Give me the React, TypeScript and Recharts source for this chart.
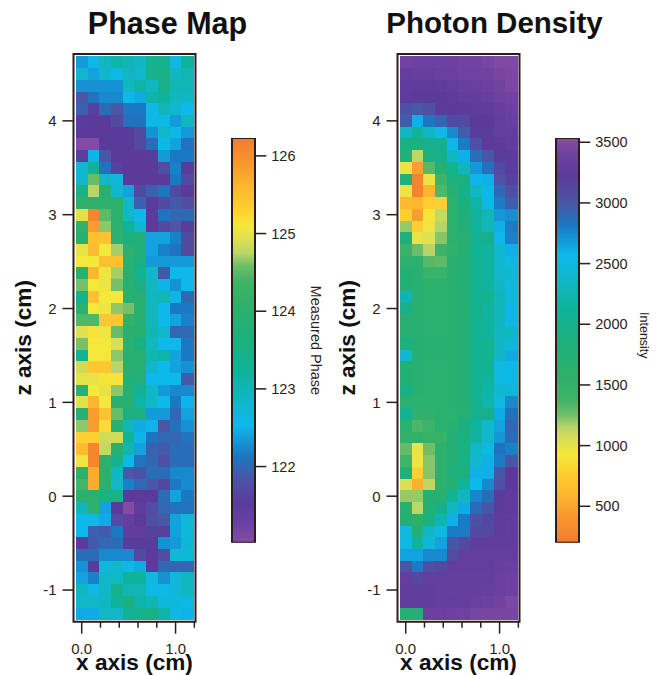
import React from "react";
import {
  Bar,
  BarChart,
  ReferenceArea,
  Scatter,
  ScatterChart,
  XAxis,
  YAxis,
} from "recharts";

// cell centres in cm
const xCenters = [0, 0.125, 0.25, 0.375, 0.5, 0.625, 0.75, 0.875, 1, 1.125];
const zCenters = [
  4.625, 4.5, 4.375, 4.25, 4.125, 4, 3.875, 3.75, 3.625, 3.5, 3.375, 3.25,
  3.125, 3, 2.875, 2.75, 2.625, 2.5, 2.375, 2.25, 2.125, 2, 1.875, 1.75,
  1.625, 1.5, 1.375, 1.25, 1.125, 1, 0.875, 0.75, 0.625, 0.5, 0.375, 0.25,
  0.125, 0, -0.125, -0.25, -0.375, -0.5, -0.625, -0.75, -0.875, -1, -1.125, -1.25,
];

const phaseRows = [
  [122.35, 122.6, 122.9, 123.1, 123, 122.9, 123.4, 123.4, 122.6, 123.2],
  [122.8, 122.4, 122.8, 122.6, 122.9, 122.8, 123.4, 123.5, 122.9, 123],
  [122.3, 122.3, 122.3, 122.3, 122.9, 123.1, 122.9, 123.5, 123, 123],
  [121.85, 122.1, 122.25, 122.25, 122.6, 122.45, 123.1, 123.2, 122.9, 122.9],
  [121.95, 121.6, 122.05, 121.85, 122.15, 122.15, 122.6, 122.95, 122.8, 122.55],
  [121.55, 121.5, 121.5, 121.7, 122.1, 122.1, 122.6, 122.6, 122.35, 122.9],
  [121.5, 121.5, 121.5, 121.5, 121.5, 121.7, 122.3, 122.85, 122.6, 122.35],
  [121.05, 121.05, 121.5, 121.5, 121.5, 121.7, 122.05, 122.6, 122.4, 122.1],
  [121.6, 122.5, 121.85, 121.5, 121.5, 121.5, 121.55, 122.35, 122.15, 122.15],
  [122.8, 123.4, 122.1, 121.6, 121.5, 121.5, 121.5, 121.75, 122.2, 121.55],
  [122.8, 124.55, 122.85, 122.7, 121.5, 121.5, 121.5, 121.5, 122.15, 121.7],
  [123.5, 124.75, 123.9, 122.8, 122.4, 121.7, 121.95, 122.1, 121.7, 121.5],
  [124.1, 124.1, 124, 124, 122.8, 121.95, 121.5, 121.7, 121.9, 121.75],
  [124.95, 126.1, 124.5, 124, 122.8, 122.55, 121.5, 122.1, 122, 122],
  [124.2, 125.85, 124.65, 124, 123.2, 122.8, 121.5, 121.7, 121.85, 121.55],
  [123.9, 125.5, 125.45, 124, 123.6, 123.7, 122.4, 122.4, 122.2, 121.7],
  [125, 125.55, 125.1, 124.7, 124, 123.7, 122.4, 122.2, 122.1, 121.7],
  [125.1, 125.1, 125.5, 125.5, 123.9, 123.6, 122.35, 122.35, 122.35, 122.35],
  [123.9, 125.6, 125.05, 124.7, 123.9, 123.3, 122.8, 121.9, 122.55, 122.55],
  [124.6, 125.1, 125.05, 124.6, 123.9, 123.6, 122.9, 122.5, 122.3, 122.55],
  [123.4, 125.5, 125.1, 125.1, 123.9, 123.9, 122.9, 123, 122.5, 122],
  [124, 125.1, 125.05, 124.65, 124.6, 123.9, 122.9, 122.55, 122.15, 122.15],
  [124.45, 124.45, 125.4, 125.4, 124.2, 123.9, 122.95, 122.55, 122.4, 122.2],
  [124.95, 125.15, 125.05, 124.55, 123.95, 123.9, 123, 122.8, 122, 122],
  [124.6, 125.1, 125.1, 124.9, 123.9, 123.6, 122.9, 122.55, 122.55, 122.15],
  [123.3, 125.1, 125.1, 124.65, 123.9, 123.9, 123, 123.1, 122.4, 122.15],
  [124.85, 125.4, 125.4, 124.75, 123.9, 123.9, 122.8, 122.55, 122.4, 122.3],
  [125, 125, 125.15, 125.15, 123.7, 123.8, 122.55, 122.55, 122.55, 121.9],
  [123.9, 125.1, 125, 124.65, 123.8, 123.3, 122.85, 122.35, 122.25, 122.25],
  [124.95, 125.6, 125.1, 123.9, 123.9, 123.1, 122.85, 122.55, 122.15, 122.5],
  [123.9, 125.85, 125.45, 124.55, 123.6, 123.6, 122.35, 122.35, 122, 122.4],
  [124.65, 125.85, 125.2, 123.9, 122.95, 122.45, 122.5, 121.85, 122.1, 122.3],
  [125.3, 125.3, 124.85, 124.85, 123.2, 122.5, 122.1, 122, 122, 122.1],
  [125.55, 126.1, 124.8, 123.95, 123, 122.4, 121.95, 121.9, 122.05, 122.05],
  [125.05, 126.1, 124, 123.4, 122.6, 122.1, 122, 121.8, 122.05, 122.05],
  [124, 125.7, 124, 122.9, 121.85, 121.8, 122.05, 122.05, 122.25, 122.25],
  [124.4, 125.7, 124, 122.85, 122.2, 122, 121.85, 121.65, 122.15, 122.25],
  [124, 124, 123.5, 123.5, 121.5, 121.5, 121.5, 122.05, 122.4, 122.15],
  [122.95, 124, 122.4, 121.5, 121.05, 121.45, 121.75, 122, 122.1, 122.1],
  [122.55, 122.6, 122.45, 121.75, 121.35, 121.5, 121.8, 121.85, 122.4, 122.7],
  [122.55, 121.95, 121.9, 122.15, 121.4, 121.4, 121.6, 121.6, 122.4, 122.7],
  [121.5, 121.9, 122, 122.05, 121.55, 121.55, 121.55, 122.3, 122.35, 122.75],
  [122.05, 122.05, 122.25, 122.25, 122.25, 121.7, 121.5, 121.75, 122.7, 122.7],
  [122.3, 121.55, 122.7, 122.8, 122.6, 122.45, 121.5, 122, 122, 122],
  [122.4, 122.2, 122.85, 122.85, 123.2, 123.2, 122.6, 122.3, 122.7, 122.9],
  [122.9, 122.6, 122.85, 123.4, 123, 123, 122.6, 122.6, 122.7, 122.9],
  [122.85, 122.85, 122.9, 123.2, 123.6, 123.1, 123, 122.7, 122.7, 122.6],
  [122.45, 122.45, 122.85, 122.85, 123.3, 123.4, 123.5, 123.1, 122.6, 122.5],
];

const densityRows = [
  [3420, 3380, 3380, 3380, 3380, 3420, 3420, 3450, 3500, 3500],
  [3300, 3320, 3320, 3350, 3350, 3400, 3400, 3420, 3450, 3470],
  [3250, 3250, 3250, 3270, 3300, 3330, 3350, 3380, 3420, 3470],
  [3250, 3220, 3220, 3220, 3250, 3280, 3280, 3320, 3380, 3420],
  [3050, 2980, 3050, 3200, 3220, 3200, 3250, 3270, 3320, 3380],
  [2970, 2600, 2820, 2920, 3100, 3100, 3220, 3220, 3300, 3350],
  [2330, 2130, 2350, 2560, 2750, 2970, 3200, 3200, 3300, 3300],
  [1900, 1900, 2000, 2000, 2550, 2800, 3050, 3220, 3230, 3280],
  [1800, 1130, 1850, 2000, 2350, 2600, 2870, 3000, 3200, 3240],
  [970, 460, 1320, 1750, 2050, 2320, 2700, 2850, 3100, 3200],
  [1800, 280, 980, 1400, 1850, 1850, 2580, 2600, 3030, 3150],
  [970, 250, 600, 1340, 1700, 2000, 2350, 2550, 2900, 3050],
  [620, 600, 780, 780, 1650, 1900, 2200, 2540, 2800, 2950],
  [780, 460, 900, 1100, 1650, 1800, 2150, 2300, 2700, 2730],
  [1200, 780, 960, 1150, 1650, 1750, 2150, 2300, 2600, 2800],
  [1850, 980, 1020, 1220, 1600, 1700, 2050, 2000, 2550, 2780],
  [1430, 1260, 1150, 1400, 1550, 1750, 2080, 2150, 2400, 2600],
  [1600, 1600, 1320, 1300, 1700, 1750, 2050, 2150, 2400, 2540],
  [1750, 1700, 1480, 1480, 1700, 1750, 2050, 2150, 2400, 2400],
  [1750, 1700, 1600, 1600, 1700, 1750, 2050, 2150, 2350, 2500],
  [2250, 1700, 1650, 1650, 1700, 1750, 2050, 2050, 2300, 2500],
  [1950, 1700, 1650, 1650, 1700, 1750, 2000, 2150, 2300, 2550],
  [1700, 1700, 1650, 1650, 1700, 1750, 2050, 2150, 2300, 2550],
  [1700, 1700, 1650, 1650, 1700, 1750, 2050, 2150, 2350, 2350],
  [1900, 1750, 1700, 1700, 1700, 1750, 2050, 2050, 2350, 2450],
  [2400, 1750, 1700, 1700, 1700, 1750, 2050, 2050, 2350, 2620],
  [1750, 1700, 1650, 1650, 1700, 1750, 2050, 2100, 2500, 2550],
  [1750, 1700, 1650, 1650, 1700, 1750, 2050, 2150, 2500, 2550],
  [1950, 1700, 1650, 1650, 1700, 1750, 2050, 2200, 2400, 2450],
  [1650, 1650, 1600, 1650, 1700, 1750, 2050, 2250, 2500, 2750],
  [2050, 1550, 1550, 1650, 1650, 1700, 2050, 2000, 2620, 2850],
  [1650, 1350, 1400, 1650, 1700, 1900, 2150, 2400, 2650, 2920],
  [1500, 1500, 1450, 1450, 1750, 1900, 2150, 2400, 2700, 2880],
  [1280, 970, 1250, 1600, 1750, 1900, 2380, 2500, 2850, 2780],
  [1380, 960, 1220, 1650, 1750, 2000, 2400, 2600, 2800, 3000],
  [1800, 780, 1220, 1650, 1800, 1850, 2600, 2600, 3000, 3220],
  [1050, 560, 1130, 1650, 1750, 2150, 2560, 2750, 3050, 3220],
  [1200, 1200, 1750, 1700, 2100, 2350, 2770, 2880, 3200, 3250],
  [1700, 1130, 1750, 2000, 2350, 2620, 2880, 3000, 3230, 3250],
  [1750, 1600, 1900, 2250, 2600, 2800, 3050, 3120, 3250, 3280],
  [2500, 1750, 2350, 2500, 2800, 2800, 3100, 3100, 3250, 3280],
  [2500, 2150, 2450, 2650, 3000, 3080, 3280, 3280, 3280, 3290],
  [2650, 2650, 2750, 2750, 3080, 3300, 3300, 3300, 3300, 3300],
  [3000, 2800, 3050, 3100, 3300, 3300, 3300, 3300, 3330, 3350],
  [3300, 3100, 3300, 3300, 3320, 3320, 3320, 3320, 3350, 3380],
  [3280, 3280, 3280, 3300, 3320, 3320, 3320, 3330, 3350, 3380],
  [3280, 3280, 3280, 3300, 3300, 3320, 3350, 3380, 3420, 3480],
  [1750, 1750, 3350, 3350, 3380, 3400, 3450, 3450, 3450, 3450],
];

const xTicks = [0, 0.2, 0.4, 0.6, 0.8, 1, 1.2];
const zTicks = [-1, 0, 1, 2, 3, 4];
const phaseTicks = [122, 123, 124, 125, 126];
const densityTicks = [500, 1000, 1500, 2000, 2500, 3000, 3500];

const phaseRange = [121.02, 126.23];
const densityRange = [200, 3535];

// palette from low phase (purple) to high phase (orange)
const palette: [number, string][] = [
  [0, "#874ca3"],
  [0.04, "#6e42a0"],
  [0.095, "#5b3a9c"],
  [0.158, "#4b55a5"],
  [0.19, "#2f68b4"],
  [0.216, "#1b78c4"],
  [0.29, "#0db8ec"],
  [0.348, "#10b7c8"],
  [0.42, "#0fb39b"],
  [0.496, "#1cb07e"],
  [0.586, "#2eb06a"],
  [0.644, "#3db368"],
  [0.685, "#70be68"],
  [0.714, "#b5d568"],
  [0.743, "#d8de55"],
  [0.784, "#f5e83a"],
  [0.825, "#fdcf30"],
  [0.875, "#fdb92e"],
  [0.932, "#f89a2e"],
  [1, "#f37b30"],
];

const INK = "#2b1d1a";
const FONT = "'Liberation Sans', Arial, sans-serif";

const hexRgb = (h: string) => [1, 3, 5].map((i) => parseInt(h.slice(i, i + 2), 16));

function paletteColor(t: number) {
  const f = Math.min(1, Math.max(0, t));
  for (let i = 1; i < palette.length; i++) {
    if (f <= palette[i][0]) {
      const [a, ca] = palette[i - 1];
      const [b, cb] = palette[i];
      const k = (f - a) / (b - a);
      const ra = hexRgb(ca);
      const rb = hexRgb(cb);
      return `rgb(${ra.map((v, j) => Math.round(v + (rb[j] - v) * k)).join(",")})`;
    }
  }
  return palette[palette.length - 1][1];
}

const phaseColor = (v: number) =>
  paletteColor((v - phaseRange[0]) / (phaseRange[1] - phaseRange[0]));
const densityColor = (v: number) =>
  paletteColor((densityRange[1] - v) / (densityRange[1] - densityRange[0]));

const toCells = (rows: number[][]) =>
  rows.flatMap((row, r) =>
    row.map((v, c) => ({ x: xCenters[c], z: zCenters[r], v })),
  );

const CELL_W = 11.75;
const CELL_H = 11.75;

function XTick({ x, y, payload }: any) {
  const major = payload.value === 0 || payload.value === 1;
  return (
    <g>
      <line x1={x} x2={x} y1={y} y2={y + (major ? 12 : 6)} stroke={INK} strokeWidth={1.5} />
      {major ? (
        <text x={x} y={y + 32} textAnchor="middle" fontSize={15} fill={INK} fontFamily={FONT}>
          {payload.value.toFixed(1)}
        </text>
      ) : null}
    </g>
  );
}

function HeatPanel({
  left,
  rows,
  colorOf,
}: {
  left: number;
  rows: number[][];
  colorOf: (v: number) => string;
}) {
  const domainX: [number, number] = [-0.0875, 1.2125];
  const domainZ: [number, number] = [-1.3375, 4.7125];
  return (
    <div style={{ position: "absolute", left, top: 0 }}>
      <ScatterChart
        width={200}
        height={675}
        margin={{ top: 54, right: 4.5, bottom: 0, left: 0 }}
      >
        <XAxis
          type="number"
          dataKey="x"
          domain={domainX}
          ticks={xTicks}
          allowDataOverflow
          axisLine={false}
          tickLine={false}
          tickSize={0}
          tickMargin={0}
          height={53.3}
          interval={0}
          tick={<XTick />}
          label={{
            value: "x axis (cm)",
            position: "insideBottom",
            offset: 5,
            style: { fontSize: 22.6, fontWeight: 700, fontFamily: FONT, fill: "#111" },
          }}
        />
        <YAxis
          type="number"
          dataKey="z"
          domain={domainZ}
          ticks={zTicks}
          allowDataOverflow
          width={73.5}
          axisLine={false}
          interval={0}
          tickSize={11}
          tickMargin={6}
          tickLine={{ stroke: INK, strokeWidth: 1.5 }}
          tick={{ fontSize: 15, fill: INK, fontFamily: FONT }}
          label={{
            value: "z axis (cm)",
            angle: -90,
            position: "insideLeft",
            offset: 23,
            style: {
              fontSize: 22.6,
              fontWeight: 700,
              fontFamily: FONT,
              fill: "#111",
              textAnchor: "middle",
            },
          }}
        />
        <Scatter
          data={toCells(rows)}
          isAnimationActive={false}
          shape={(p: any) => (
            <rect
              x={p.cx - CELL_W / 2}
              y={p.cy - CELL_H / 2}
              width={CELL_W + 0.5}
              height={CELL_H + 0.5}
              fill={colorOf(p.payload.v)}
              shapeRendering="crispEdges"
            />
          )}
        />
        <ReferenceArea
          x1={domainX[0]}
          x2={domainX[1]}
          y1={domainZ[0]}
          y2={domainZ[1]}
          fill="none"
          stroke={INK}
          strokeWidth={2}
          ifOverflow="visible"
        />
      </ScatterChart>
    </div>
  );
}

function ColorBar({
  left,
  id,
  range,
  ticks,
  title,
  reversed,
  titleOffset,
  titleSize,
  titleShift,
}: {
  left: number;
  id: string;
  range: number[];
  ticks: number[];
  title: string;
  reversed: boolean;
  titleOffset: number;
  titleSize: number;
  titleShift: number;
}) {
  // top of the bar is the high end of the value range
  const stops = palette.map(([f, c]) => ({
    offset: reversed ? f : 1 - f,
    color: c,
  }));
  stops.sort((a, b) => a.offset - b.offset);
  return (
    <div style={{ position: "absolute", left: left - 2, top: 128 }}>
      <BarChart
        width={102}
        height={424.7}
        data={[{ name: title, span: range }]}
        margin={{ top: 10, right: 0, bottom: 10, left: 2 }}
        barCategoryGap={0}
      >
        <defs>
          <linearGradient id={id} x1="0" y1="0" x2="0" y2="1">
            {stops.map((s) => (
              <stop key={s.offset} offset={s.offset} stopColor={s.color} />
            ))}
          </linearGradient>
        </defs>
        <XAxis dataKey="name" hide />
        <YAxis
          orientation="right"
          type="number"
          domain={range}
          ticks={ticks}
          allowDataOverflow
          width={76.7}
          interval={0}
          axisLine={false}
          tickSize={11}
          tickMargin={5}
          tickLine={{ stroke: INK, strokeWidth: 1.5 }}
          tick={{ fontSize: 14.5, fill: INK, fontFamily: FONT }}
          label={{
            value: title,
            angle: 90,
            position: "insideRight",
            offset: titleOffset,
            dy: titleShift,
            style: { fontSize: titleSize, fill: INK, fontFamily: FONT, textAnchor: "middle" },
          }}
        />
        <Bar
          dataKey="span"
          isAnimationActive={false}
          shape={(p: any) => (
            <rect
              x={p.x}
              y={Math.min(p.y, p.y + p.height)}
              width={p.width}
              height={Math.abs(p.height)}
              fill={`url(#${id})`}
              stroke={INK}
              strokeWidth={2}
            />
          )}
        />
      </BarChart>
    </div>
  );
}

function Title({ center, text, size }: { center: number; text: string; size: number }) {
  return (
    <div
      style={{
        position: "absolute",
        left: center - 150,
        width: 300,
        top: 5,
        textAlign: "center",
        fontFamily: FONT,
        fontWeight: 700,
        fontSize: size,
        lineHeight: "36px",
        color: "#111",
      }}
    >
      {text}
    </div>
  );
}

export default function App() {
  return (
    <div
      style={{
        position: "absolute",
        left: 0,
        top: 0,
        width: 662,
        height: 675,
        overflow: "hidden",
        background: "#fff",
      }}
    >
      <Title center={167.5} text="Phase Map" size={30.5} />
      <Title center={494.5} text="Photon Density" size={29.5} />
      <HeatPanel left={0} rows={phaseRows} colorOf={phaseColor} />
      <HeatPanel left={324.2} rows={densityRows} colorOf={densityColor} />
      <ColorBar
        left={231.7}
        id="phaseBar"
        range={phaseRange}
        ticks={phaseTicks}
        title="Measured Phase"
        reversed={false}
        titleOffset={16}
        titleSize={14.5}
        titleShift={0}
      />
      <ColorBar
        left={556}
        id="densityBar"
        range={densityRange}
        ticks={densityTicks}
        title="Intensity"
        reversed={true}
        titleOffset={12}
        titleSize={12.5}
        titleShift={-5}
      />
    </div>
  );
}
